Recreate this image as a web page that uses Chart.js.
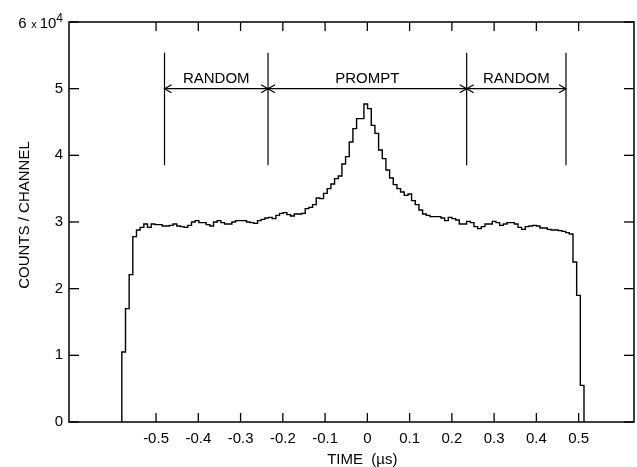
<!DOCTYPE html>
<html>
<head>
<meta charset="utf-8">
<script src="https://cdn.jsdelivr.net/npm/chart.js@4"></script>
<style>
  html, body { margin: 0; padding: 0; background: #fff; }
  #wrap { width: 637px; height: 467px; }
</style>
</head>
<body>
<div id="wrap"><canvas id="chart" width="637" height="467"></canvas></div>
<script>
// counts per channel, one value per time bin
const counts = [
  10500, 17000, 22100, 27800, 28800, 29200, 29700, 29200, 29700, 29600,
  29600, 29400, 29400, 29500, 29700, 29400, 29300, 29200, 29500, 30000,
  30200, 29900, 29900, 29600, 29400, 30000, 30200, 29900, 29700, 29700,
  30000, 30200, 30200, 30200, 30000, 29900, 29800, 30200, 30400, 30600,
  30700, 30500, 31000, 31300, 31400, 31100, 30900, 31200, 31200, 31300,
  32000, 32200, 32600, 33600, 33500, 34300, 35000, 35700, 36500, 36900,
  38700, 39800, 42000, 44000, 45500, 45500, 47700, 47000, 44500, 43300,
  40800, 39500, 37800, 36600, 35600, 35000, 34500, 34000, 34200, 33200,
  32600, 31800, 31200, 31000, 30800, 30800, 30800, 30600, 30200, 30700,
  30500, 30300, 29700, 29700, 30100, 29900, 29300, 29000, 29300, 29700,
  29700, 30100, 29900, 29500, 29700, 29900, 29900, 29700, 29200, 28900,
  29300, 29400, 29500, 29400, 29100, 29100, 28900, 28800, 28800, 28700,
  28600, 28400, 28200, 24000, 19000, 5500
];
const binStart = -0.581;   // us, left edge of first channel
const binWidth = 0.00868;  // us per channel

const xTicks = [-0.5, -0.4, -0.3, -0.2, -0.1, 0, 0.1, 0.2, 0.3, 0.4, 0.5];
const yTicks = [0, 10000, 20000, 30000, 40000, 50000, 60000];

// gate markers
const windowEdges = [-0.48, -0.235, 0.235, 0.47];
const windowLabels = ['RANDOM', 'PROMPT', 'RANDOM'];
const markerTop = 55400;
const markerBottom = 38500;
const arrowLevel = 50000;
const labelLevel = 51450;

const FONT = '"Liberation Sans", Arial, Helvetica, sans-serif';
Chart.defaults.font.family = FONT;
Chart.defaults.font.size = 15;
Chart.defaults.color = '#000';

// each channel value holds from its left edge to the next edge
const points = [{ x: binStart, y: 0 }];
counts.forEach((c, i) => points.push({ x: binStart + (i + 1) * binWidth, y: c }));
points.push({ x: binStart + counts.length * binWidth, y: 0 });

function line(ctx, x1, y1, x2, y2) {
  ctx.beginPath();
  ctx.moveTo(x1, y1);
  ctx.lineTo(x2, y2);
  ctx.stroke();
}

function arrowHead(ctx, x, y, dir) {
  // open arrow head pointing left (dir=-1) or right (dir=1)
  ctx.beginPath();
  ctx.moveTo(x - dir * 7, y - 4);
  ctx.lineTo(x, y);
  ctx.lineTo(x - dir * 7, y + 4);
  ctx.stroke();
}

const framePlugin = {
  id: 'frame',
  afterDraw(chart) {
    const { ctx, chartArea: a, scales: { x, y } } = chart;
    ctx.save();
    ctx.strokeStyle = '#000';
    ctx.lineWidth = 1.5;
    ctx.strokeRect(a.left, a.top, a.right - a.left, a.bottom - a.top);

    // inward tick marks on all four sides
    ctx.lineWidth = 1.3;
    xTicks.forEach(v => {
      const px = x.getPixelForValue(v);
      line(ctx, px, a.bottom, px, a.bottom - 9);
      line(ctx, px, a.top, px, a.top + 9);
    });
    yTicks.forEach(v => {
      const py = y.getPixelForValue(v);
      line(ctx, a.left, py, a.left + 10, py);
      line(ctx, a.right, py, a.right - 10, py);
    });

    // gate lines, arrows and labels
    ctx.lineWidth = 1.2;
    const top = y.getPixelForValue(markerTop);
    const bottom = y.getPixelForValue(markerBottom);
    const ay = y.getPixelForValue(arrowLevel);
    const edges = windowEdges.map(v => x.getPixelForValue(v));
    edges.forEach(px => line(ctx, px, top, px, bottom));
    ctx.font = '15px ' + FONT;
    ctx.fillStyle = '#000';
    ctx.textAlign = 'center';
    ctx.textBaseline = 'middle';
    windowLabels.forEach((lab, i) => {
      const x1 = edges[i], x2 = edges[i + 1];
      line(ctx, x1, ay, x2, ay);
      arrowHead(ctx, x1, ay, -1);
      arrowHead(ctx, x2, ay, 1);
      ctx.fillText(lab, (x1 + x2) / 2, y.getPixelForValue(labelLevel));
    });

    // top y label with exponent
    const ty = y.getPixelForValue(yTicks[yTicks.length - 1]);
    ctx.textAlign = 'right';
    ctx.textBaseline = 'alphabetic';
    ctx.font = '12px ' + FONT;
    ctx.fillText('4', a.left - 6, ty);
    const w4 = ctx.measureText('4').width;
    ctx.font = '15px ' + FONT;
    ctx.fillText('10', a.left - 6 - w4, ty + 6);
    const w10 = ctx.measureText('10').width;
    ctx.font = '11px ' + FONT;
    ctx.fillText('x', a.left - 9 - w4 - w10, ty + 6);
    ctx.font = '15px ' + FONT;
    ctx.fillText('6', a.left - 19 - w4 - w10, ty + 6);

    // axis titles
    ctx.textAlign = 'center';
    ctx.textBaseline = 'middle';
    ctx.fillText('TIME  (\u00b5s)', x.getPixelForValue(-0.012), 460);
    ctx.translate(25, (a.top + a.bottom) / 2 - 7);
    ctx.rotate(-Math.PI / 2);
    ctx.fillText('COUNTS / CHANNEL', 0, 0);
    ctx.restore();
  }
};

new Chart(document.getElementById('chart'), {
  type: 'line',
  data: {
    datasets: [{
      data: points,
      stepped: 'after',
      borderColor: '#000',
      borderWidth: 1.4,
      pointRadius: 0,
      fill: false
    }]
  },
  options: {
    responsive: false,
    animation: false,
    events: [],
    layout: { padding: { top: 22, right: 3, left: 0, bottom: 0 } },
    plugins: { legend: { display: false }, tooltip: { enabled: false } },
    scales: {
      x: {
        type: 'linear',
        min: -0.706,
        max: 0.631,
        grid: { display: false, drawTicks: false },
        border: { display: false },
        afterBuildTicks: s => { s.ticks = xTicks.map(v => ({ value: v })); },
        afterFit: s => { s.height = 45; },
        ticks: {
          padding: 8,
          maxRotation: 0,
          autoSkip: false,
          callback: v => (v === 0 ? '0' : v.toFixed(1))
        }
      },
      y: {
        min: 0,
        max: 60000,
        grid: { display: false, drawTicks: false },
        border: { display: false },
        afterBuildTicks: s => { s.ticks = yTicks.map(v => ({ value: v })); },
        afterFit: s => { s.width = 69; },
        ticks: {
          padding: 6,
          callback: v => (v === 60000 ? '' : String(v / 10000))
        }
      }
    }
  },
  plugins: [framePlugin]
});
</script>
</body>
</html>
